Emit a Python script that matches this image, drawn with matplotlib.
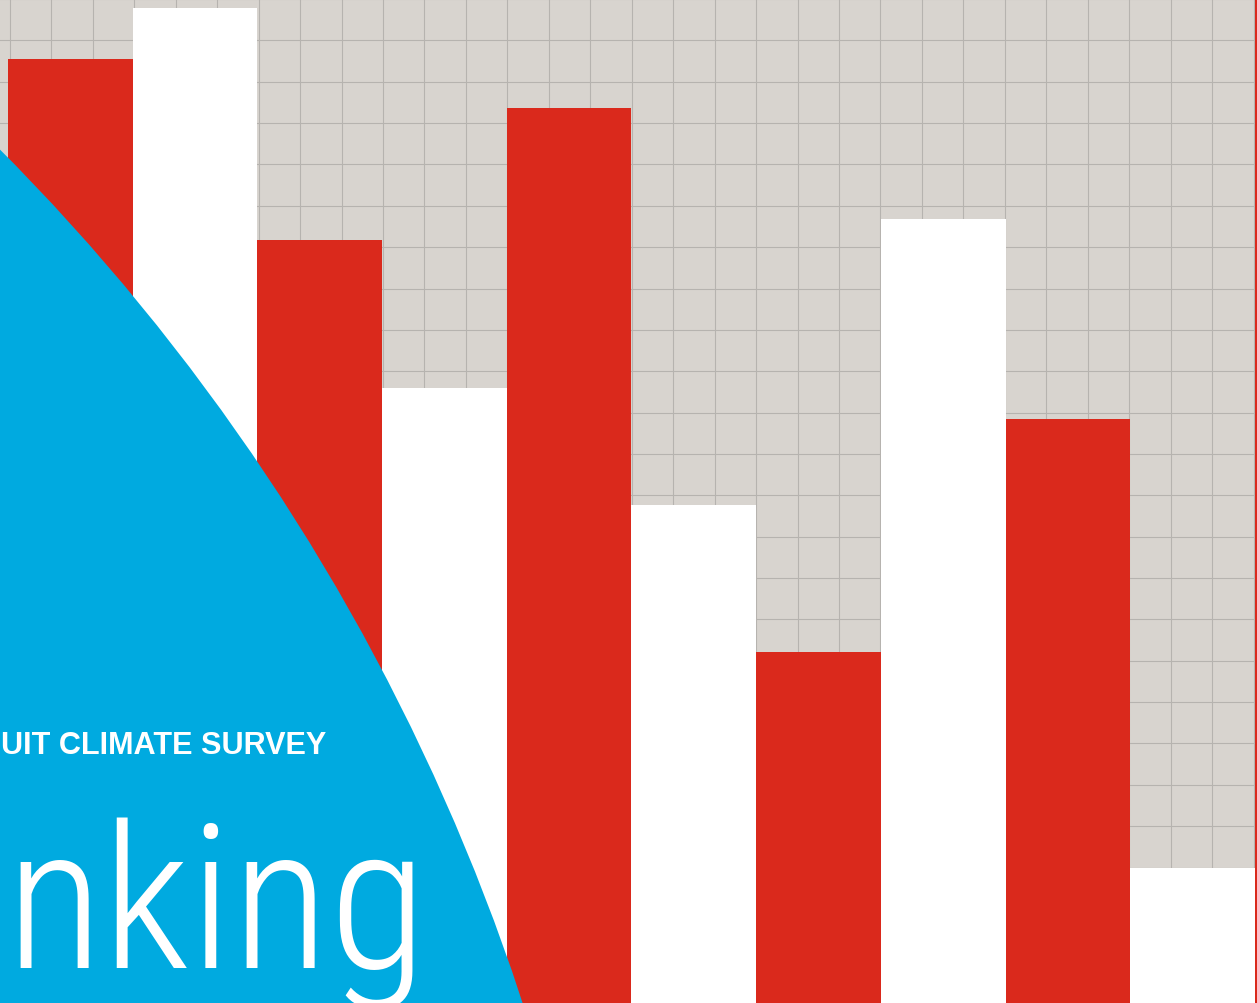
import numpy as np
import matplotlib
matplotlib.use('Agg')
import matplotlib.pyplot as plt
from matplotlib.patches import Circle

# bar values (grid units)
values = [22.83, 24.06, 18.45, 14.86, 21.64, 12.05, 8.48, 18.96, 14.11, 3.26, 30.0]
series = ['red', 'white', 'red', 'white', 'red', 'white', 'red', 'white', 'red', 'white', 'red']
subtitle = 'UIT CLIMATE SURVEY'
title = 'nking'

RED = '#da291c'
WHITE = '#ffffff'
BLUE = '#00aae0'
PAPER = '#d8d4cf'
GRID = '#b6b3af'

W, H = 1257, 1004
fig = plt.figure(figsize=(W / 100, H / 100), dpi=100)

# bars on the squared paper
ax = fig.add_axes([0, 0, 1, 1])
ax.set_facecolor(PAPER)
for s in ax.spines.values():
    s.set_visible(False)
x = np.arange(len(values))
colors = [RED if c == 'red' else WHITE for c in series]
ax.bar(x, values, width=1.0, color=colors, linewidth=0, zorder=3)
ax.set_xlim(-0.564, 9.516)
ax.set_ylim(0, H / 41.4)
ax.set_xticks(np.arange(-0.484, 9.6, 0.3324))
ax.set_yticks(np.arange(0.275, 24.3, 1.0))
ax.tick_params(length=0, labelbottom=False, labelleft=False)
ax.grid(True, color=GRID, linewidth=0.8, zorder=1)
ax.set_axisbelow(True)

# blue disc and text, in pixel coordinates
ov = fig.add_axes([0, 0, 1, 1])
ov.set_xlim(0, W)
ov.set_ylim(H, 0)
ov.axis('off')
ov.patch.set_alpha(0)
ov.add_patch(Circle((-1531, 1675), 2160.5, facecolor=BLUE, edgecolor='none', zorder=2))

ov.text(326, 754, subtitle, color='white', fontsize=22.1, fontweight='bold',
        family=['Liberation Sans', 'DejaVu Sans'], ha='right', va='baseline', zorder=5)
ov.text(5, 968, title, color='white', fontsize=145, fontweight=300,
        family=['Roboto Condensed', 'DejaVu Sans'], ha='left', va='baseline', zorder=5)

fig.savefig('out.png', dpi=100)
